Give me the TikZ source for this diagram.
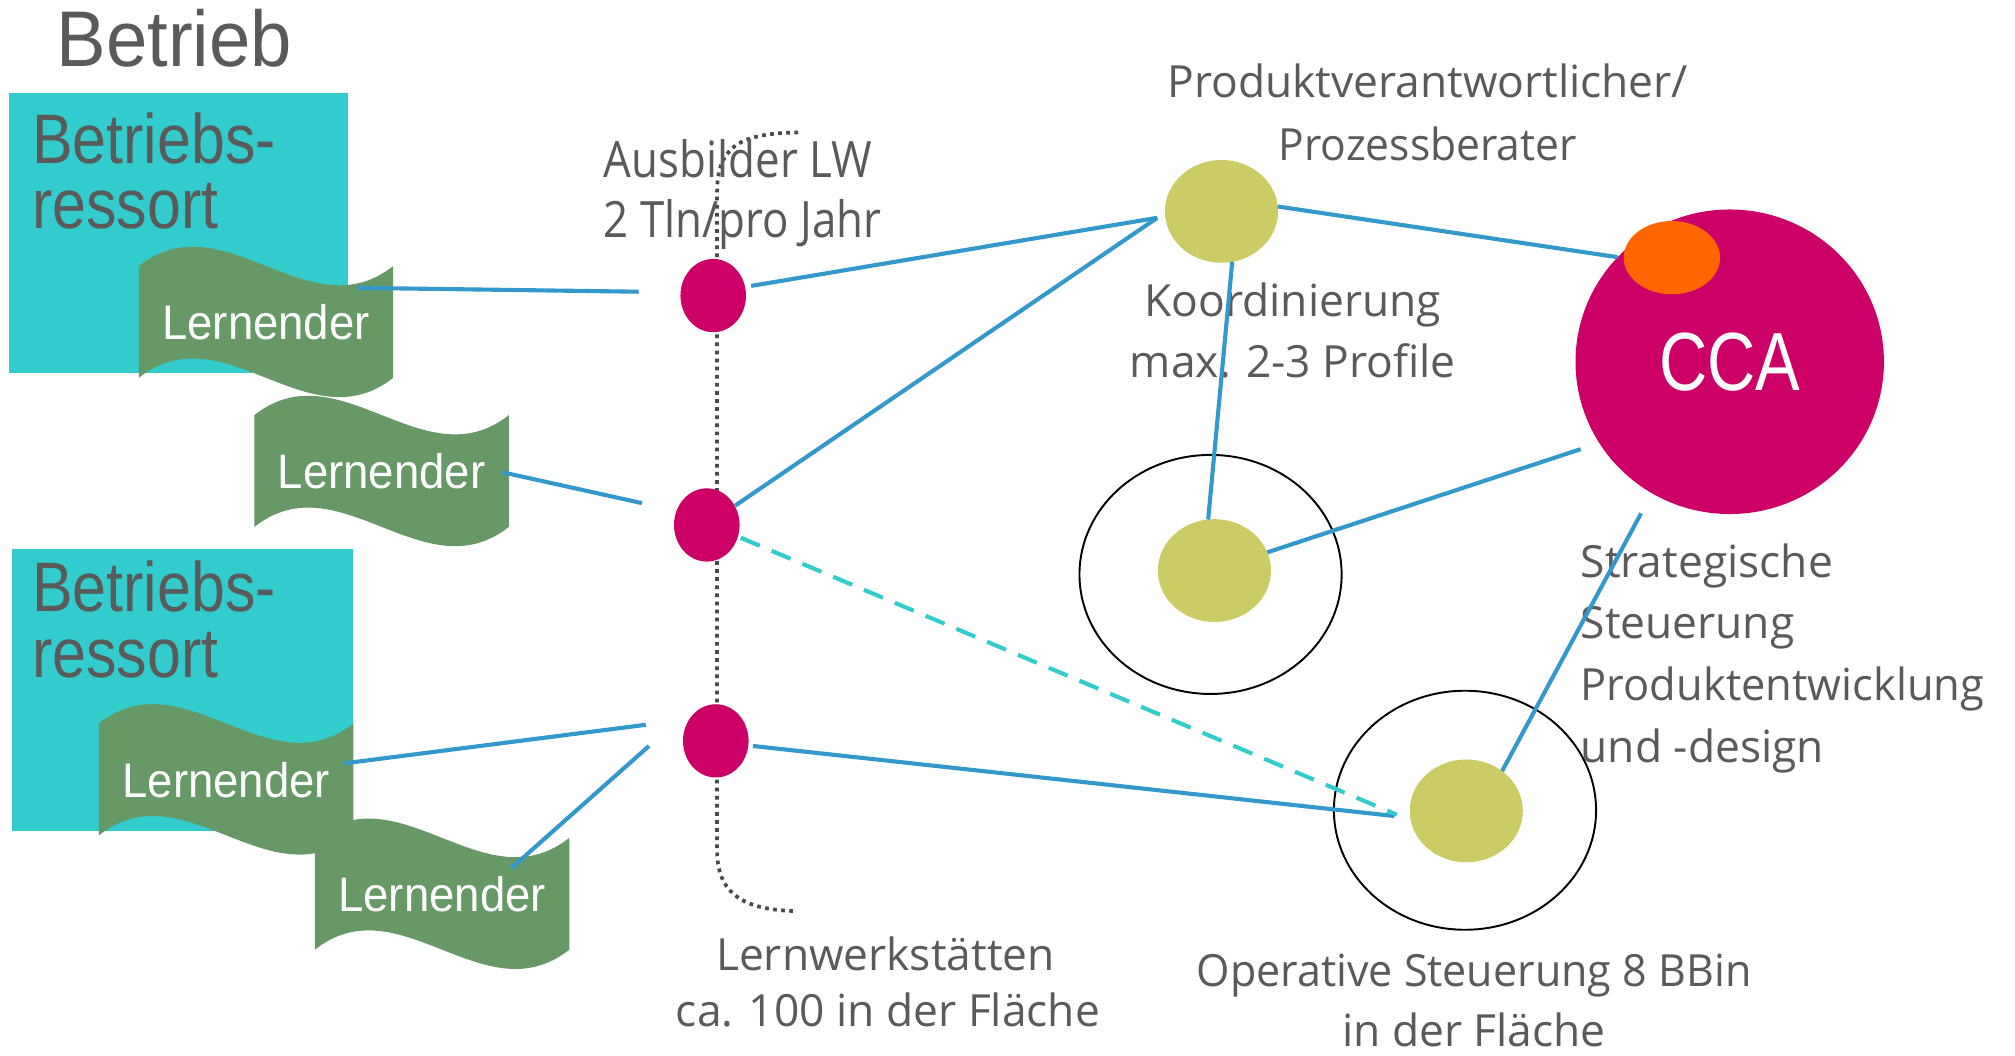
\documentclass[tikz,border=0pt]{standalone}
\usepackage{fontspec}
\setmainfont{Open Sans}
\newfontfamily\headfont{Liberation Sans}
\usetikzlibrary{shapes.geometric,calc}

\definecolor{boxcyan}{HTML}{33CCCC}
\definecolor{leafgreen}{HTML}{669966}
\definecolor{dotmag}{HTML}{CC0066}
\definecolor{dotolive}{HTML}{CCCC66}
\definecolor{accentorange}{HTML}{FF6600}
\definecolor{lineblue}{HTML}{3399CC}
\definecolor{txtgray}{HTML}{5A5A5A}
\definecolor{dotgray}{HTML}{4A4A4A}

\tikzset{
  wavebanner/.pic={
    \fill[leafgreen] (0,0) .. controls (66,-52) and (132,52) .. (198,0)
      -- (198,87) .. controls (132,139) and (66,35) .. (0,87) -- cycle;
  }
}

\begin{document}
\begin{tikzpicture}[x=1pt,y=-1pt,
  every node/.style={inner sep=0pt, outer sep=0pt},
  cyanbox/.style={rectangle, fill=boxcyan, anchor=north west},
  lbl/.style={text=txtgray, font=\fontsize{34.5}{41}\selectfont},
  headlbl/.style={text=txtgray, font=\headfont\fontsize{54.5}{60}\selectfont, anchor=base west},
  lernlbl/.style={text=white, font=\headfont\fontsize{37.7}{44}\selectfont, anchor=base},
  dotm/.style={ellipse, fill=dotmag, minimum width=51pt, minimum height=57pt},
  doty/.style={ellipse, fill=dotolive, minimum width=88pt, minimum height=80pt},
  ring/.style={ellipse, draw=black, line width=1.5pt, minimum width=204pt, minimum height=186pt},
  bline/.style={draw=lineblue, line width=3.2pt},
  dline/.style={draw=boxcyan, line width=3.2pt, dash pattern=on 16pt off 10pt},
  bracket/.style={draw=dotgray, line width=2.9pt, dash pattern=on 2.9pt off 3.4pt}]

\path[use as bounding box] (0,0) rectangle (1568,821);

% company departments
\node[cyanbox, minimum width=264pt, minimum height=218pt] (ressort1) at (7,72) {};
\node[cyanbox, minimum width=265pt, minimum height=220pt] (ressort2) at (9.5,427) {};

\node[headlbl, font=\headfont\fontsize{61.5}{70}\selectfont] (title) at (44,52) {\scalebox{0.94}[1]{Betrieb}};
\node[headlbl] (r1a) at (25,127) {\scalebox{0.87}[1]{Betriebs-}};
\node[headlbl] (r1b) at (25,178) {\scalebox{0.87}[1]{ressort}};
\node[headlbl] (r2a) at (25,476) {\scalebox{0.87}[1]{Betriebs-}};
\node[headlbl] (r2b) at (25,527) {\scalebox{0.87}[1]{ressort}};

% bracket joining the learning workshops
\draw[bracket] (621,103) .. controls (578,104) and (558,112) .. (558,150)
  -- (558,662) .. controls (558,700) and (585,708) .. (620,709);

% regional rings
\node[ring] (ring2) at (942,447) {};
\node[ring] (ring3) at (1140,630.5) {};

% learners
\pic at (108,207) {wavebanner};
\pic at (198,323) {wavebanner};
\pic at (77,563) {wavebanner};
\pic at (245,652) {wavebanner};
\node[lernlbl] (lern1) at (207,264.5) {\scalebox{0.94}[1]{Lernender}};
\node[lernlbl] (lern2) at (297,380.5) {\scalebox{0.94}[1]{Lernender}};
\node[lernlbl] (lern3) at (176,620.5) {\scalebox{0.94}[1]{Lernender}};
\node[lernlbl] (lern4) at (344,709.5) {\scalebox{0.94}[1]{Lernender}};

% captions
\node[lbl, font=\fontsize{39}{45}\selectfont, anchor=base west] (aus1) at (470,138) {\scalebox{0.875}[1]{Ausbilder LW}};
\node[lbl, font=\fontsize{39}{45}\selectfont, anchor=base west] (aus2) at (470,184.5) {\scalebox{0.875}[1]{2 Tln/pro Jahr}};
\node[lbl, anchor=base] (lw1) at (689,755) {Lernwerkstätten};
\node[lbl, anchor=base] (lw2) at (691,799) {ca. 100 in der Fläche};
\node[lbl, anchor=base] (pv1) at (1111,76) {Produktverantwortlicher/};
\node[lbl, anchor=base] (pv2) at (1111,125) {\scalebox{0.96}[1]{Prozessberater}};
\node[lbl, anchor=base] (ko1) at (1006,246) {Koordinierung};
\node[lbl, anchor=base] (ko2) at (1006,294) {max. 2-3 Profile};
\node[lbl, anchor=base west] (st1) at (1230,449) {Strategische};
\node[lbl, anchor=base west] (st2) at (1230,497) {Steuerung};
\node[lbl, anchor=base west] (st3) at (1230,545) {\scalebox{0.98}[1]{Produktentwicklung}};
\node[lbl, anchor=base west] (st4) at (1230,593) {und -design};
\node[lbl, anchor=base] (op1) at (1147,768) {\scalebox{0.97}[1]{Operative Steuerung 8 BBin}};
\node[lbl, anchor=base] (op2) at (1147,814) {in der Fläche};

% learning workshops
\node[dotm] (m1) at (555,230) {};
\node[dotm] (m2) at (550,408.5) {};
\node[dotm] (m3) at (557,576.5) {};

% product owners and regional centres
\node[doty] (y1) at (950.5,164.5) {};
\node[doty] (y2) at (945,444) {};
\node[doty] (y3) at (1141,631) {};

% central unit
\node[ellipse, fill=dotmag, minimum width=240pt, minimum height=237pt,
  text=white, font=\headfont\fontsize{64.2}{70}\selectfont] (cca) at (1346,281.5) {\scalebox{0.81}[1]{CCA}};
\node[ellipse, fill=accentorange, minimum width=75pt, minimum height=57pt] (orng) at (1301,200.5) {};

% connections
\draw[bline] ($(lern1.base)+(71.5,-40.5)$) -- ($(m1)+(-58,-3)$);
\draw[bline] ($(lern2.base)+(94,-13)$) -- ($(m2)+(-50.5,-17)$);
\draw[bline] ($(lern3.base)+(92,-26.5)$) -- ($(m3)+(-54.5,-12.5)$);
\draw[bline] ($(lern4.base)+(54,-34)$) -- ($(m3)+(-52,4)$);
\draw[bline] ($(m1)+(29.5,-7.5)$) -- ($(y1)+(-50,5)$);
\draw[bline] ($(m2)+(22,-15)$) -- ($(y1)+(-50,5)$);
\draw[bline] ($(m3)+(29,4)$) -- ($(y3)+(-56,4)$);
\draw[dline] ($(m2)+(26.5,10)$) -- ($(y3)+(-54,3)$);
\draw[bline] (y1.5) -- (cca.137);
\draw[bline] (y1.-78) -- (y2.97);
\draw[bline] (y2.19) -- ($(cca)+(-116,68)$);
\draw[bline] (y3.48) -- ($(cca)+(-69,118)$);

\end{tikzpicture}
\end{document}
